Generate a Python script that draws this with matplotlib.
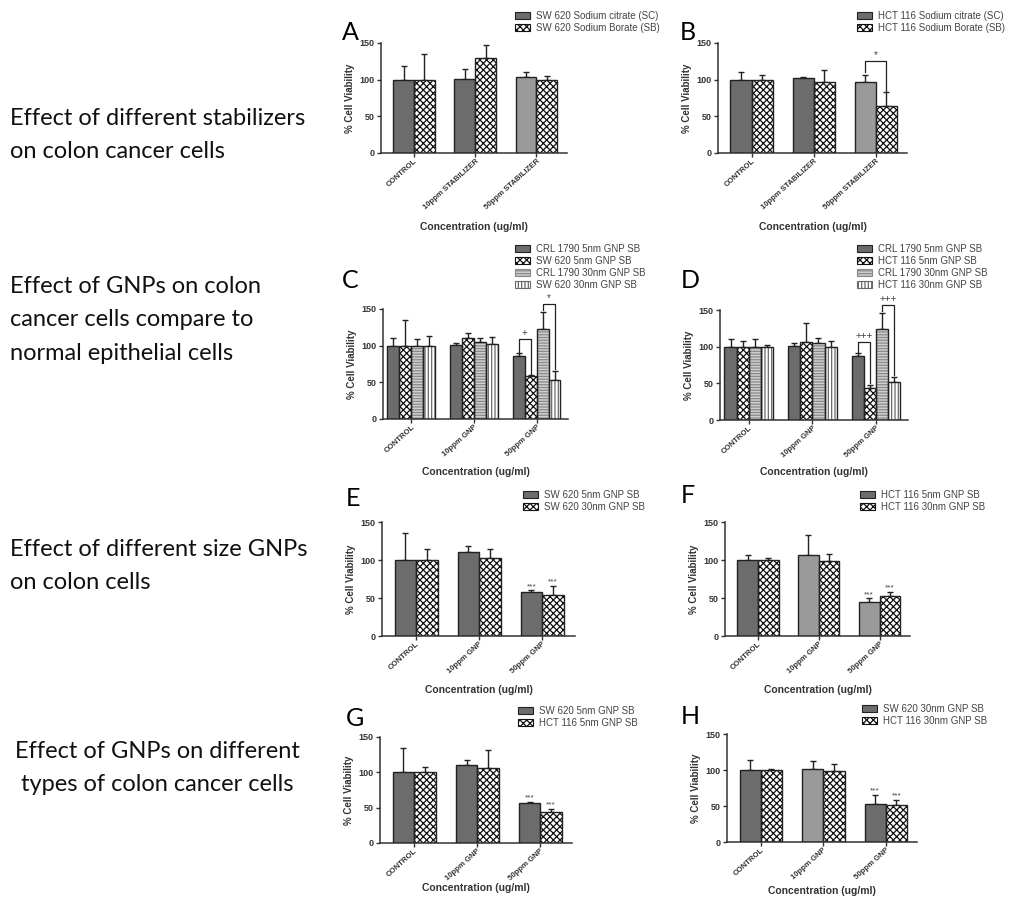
import numpy as np
import matplotlib.pyplot as plt
from matplotlib.patches import Patch

plt.rcParams['font.family'] = ['Liberation Sans', 'DejaVu Sans']
plt.rcParams['hatch.linewidth'] = 0.9

W, H = 1009, 898

# ---- data ----
groups_stab = ['CONTROL', '10ppm STABILIZER', '50ppm STABILIZER']
groups_gnp = ['CONTROL', '10ppm GNP', '50ppm GNP']

a_names = ['SW 620 Sodium citrate (SC)', 'SW 620 Sodium Borate (SB)']
a_vals = [[100, 101, 103], [100, 129.5, 100]]
a_errs = [[19, 14, 8], [35, 17.5, 4.5]]

b_names = ['HCT 116 Sodium citrate (SC)', 'HCT 116 Sodium Borate (SB)']
b_vals = [[100, 102, 97], [100, 97, 64.5]]
b_errs = [[11, 1, 9], [7, 16, 18.5]]

c_names = ['CRL 1790 5nm GNP SB', 'SW 620 5nm GNP SB',
           'CRL 1790 30nm GNP SB', 'SW 620 30nm GNP SB']
c_vals = [[100, 101, 86], [100, 110, 58], [100, 105, 123], [100, 102.5, 53.5]]
c_errs = [[10, 3, 4], [35, 7, 1.5], [9, 6, 22.5], [13, 9.5, 11.5]]

d_names = ['CRL 1790 5nm GNP SB', 'HCT 116 5nm GNP SB',
           'CRL 1790 30nm GNP SB', 'HCT 116 30nm GNP SB']
d_vals = [[100, 101, 87], [100, 106, 44], [100, 104.5, 124], [100, 99, 52]]
d_errs = [[11, 4.5, 4], [7.7, 26.7, 4], [10.5, 7.5, 22], [2, 9, 6]]

e_names = ['SW 620 5nm GNP SB', 'SW 620 30nm GNP SB']
e_vals = [[100, 110.6, 58], [100, 102.8, 54.6]]
e_errs = [[36, 7.4, 2], [14, 11.2, 11]]

f_names = ['HCT 116 5nm GNP SB', 'HCT 116 30nm GNP SB']
f_vals = [[100, 106, 45], [100, 99, 53]]
f_errs = [[7, 26.5, 4.4], [2, 8.5, 5]]

g_names = ['SW 620 5nm GNP SB', 'HCT 116 5nm GNP SB']
g_vals = [[100, 110, 57], [100, 105.5, 44]]
g_errs = [[35, 7, 1.6], [7, 26.5, 4]]

h_names = ['SW 620 30nm GNP SB', 'HCT 116 30nm GNP SB']
h_vals = [[100, 102, 53.4], [100, 98.5, 52]]
h_errs = [[14, 11, 11.6], [2, 9.5, 6]]

# brackets: (group, bar_i, bar_j, top, left_end, right_end, text)
b_brackets = [(2, 0, 1, 126, 110, 85, '*')]
c_brackets = [(2, 0, 1, 109, 92, 61, '+'), (2, 2, 3, 157, 148, 68, '*')]
d_brackets = [(2, 0, 1, 107, 93, 50, '+++'), (2, 2, 3, 157, 148, 61, '+++')]

left_texts = [
    ('Effect of different stabilizers\non colon cancer cells', 10, 135, 'left'),
    ('Effect of GNPs on colon\ncancer cells compare to\nnormal epithelial cells', 10, 320, 'left'),
    ('Effect of different size GNPs\non colon cells', 10, 566, 'left'),
    ('Effect of GNPs on different\ntypes of colon cancer cells', 157, 768, 'center'),
]

DARK = '#6c6c6c'
LIGHT = '#9a9a9a'


def px_axes(fig, x0, x1, y0, y1):
    return fig.add_axes([x0 / W, 1 - y1 / H, (x1 - x0) / W, (y1 - y0) / H])


def bar_style(kind):
    if kind == 'check':
        return dict(color='white', hatch='xxxxx', edgecolor='#111111')
    if kind == 'hline':
        return dict(color='#cfcfcf', hatch='------', edgecolor='#8a8a8a')
    if kind == 'vline':
        return dict(color='white', hatch='|||||', edgecolor='#6a6a6a')
    return dict(color=kind, hatch=None, edgecolor=kind)


def panel(fig, rect, letter, letter_xy, groups, names, vals, errs, kinds,
          xlim, leg_xy, xlab_y, brackets=None, stars=False):
    ax = px_axes(fig, *rect)
    n = len(names)
    width = 0.68 / n if n == 2 else 0.19
    x = np.arange(len(groups))
    for i in range(n):
        pos = x + (i - (n - 1) / 2) * width
        kind = kinds[i]
        cols = kind if isinstance(kind, list) else [kind] * len(groups)
        for j in range(len(groups)):
            st = bar_style(cols[j])
            ax.bar(pos[j], vals[i][j], width, color=st['color'], hatch=st['hatch'],
                   edgecolor=st['edgecolor'], linewidth=0, zorder=2)
        ax.bar(pos, vals[i], width, fill=False, edgecolor='#222222', linewidth=1.0, zorder=3)
        ax.errorbar(pos, vals[i], yerr=[np.zeros(len(groups)), errs[i]], fmt='none',
                    ecolor='#222222', elinewidth=1.0, capsize=2.5, capthick=1.0, zorder=1)
        if stars:
            ax.text(pos[2], vals[i][2] + errs[i][2] + 0.5, '***', ha='center',
                    va='bottom', fontsize=6, color='#444444')
    if brackets:
        for g, bi, bj, top, le, re, txt in brackets:
            xi = g + (bi - (n - 1) / 2) * width
            xj = g + (bj - (n - 1) / 2) * width
            ax.plot([xi, xi, xj, xj], [le, top, top, re], color='#222222', lw=0.9,
                    clip_on=False, zorder=4)
            ax.text((xi + xj) / 2, top + 1, txt, ha='center', va='bottom', fontsize=7,
                    color='#444444', clip_on=False)
    ax.set_xlim(*xlim)
    ax.set_ylim(0, 150)
    ax.set_yticks([0, 50, 100, 150])
    ax.set_xticks(x)
    ax.set_xticklabels(groups, rotation=42, ha='right', rotation_mode='anchor',
                       fontsize=5.6, fontweight='bold', color='#333333')
    for lab in ax.get_yticklabels():
        lab.set_fontsize(6.5)
        lab.set_fontweight('bold')
        lab.set_color('#333333')
    ax.tick_params(axis='both', direction='out', length=3, width=1, color='#333333', pad=1.5)
    ax.tick_params(axis='x', pad=0.5)
    ax.spines['top'].set_visible(False)
    ax.spines['right'].set_visible(False)
    for s in ('left', 'bottom'):
        ax.spines[s].set_linewidth(1.1)
        ax.spines[s].set_color('#333333')
    ax.set_ylabel('% Cell Viability', fontsize=7, fontweight='bold', color='#333333', labelpad=3)
    ax.set_xlabel('Concentration (ug/ml)', fontsize=7.5, fontweight='bold', color='#333333',
                  va='center')
    ax.xaxis.set_label_coords(0.5, (rect[3] - xlab_y) / (rect[3] - rect[2]))

    handles = []
    for i in range(n):
        kind = kinds[i]
        k0 = kind[0] if isinstance(kind, list) else kind
        st = bar_style(k0)
        handles.append(Patch(facecolor=st['color'], hatch=st['hatch'], edgecolor=st['edgecolor']
                             if st['hatch'] else '#222222', linewidth=0.8))
    ax.legend(handles, names, loc='upper left',
              bbox_to_anchor=(leg_xy[0] / W, 1 - leg_xy[1] / H), bbox_transform=fig.transFigure,
              frameon=False, fontsize=7, handlelength=1.5, handleheight=0.8,
              handletextpad=0.7, labelspacing=0.2, borderpad=0, borderaxespad=0,
              labelcolor='#444444')
    fig.text(letter_xy[0] / W, 1 - letter_xy[1] / H, letter, fontsize=18,
             family=['Lato', 'DejaVu Sans'], ha='center', va='center', color='black')
    return ax


fig = plt.figure(figsize=(W / 100, H / 100), dpi=100)

panel(fig, (381, 567, 43, 153), 'A', (350, 32), groups_stab, a_names, a_vals, a_errs,
      [[DARK, DARK, LIGHT], 'check'], (-0.54, 2.5), (515, 11), 227)
panel(fig, (718, 907, 43, 153), 'B', (688, 32), groups_stab, b_names, b_vals, b_errs,
      [[DARK, DARK, LIGHT], 'check'], (-0.54, 2.5), (857, 11), 227, brackets=b_brackets)
panel(fig, (383, 568, 309, 419), 'C', (350, 281), groups_gnp, c_names, c_vals, c_errs,
      [DARK, 'check', 'hline', 'vline'], (-0.45, 2.5), (515, 244), 472, brackets=c_brackets)
panel(fig, (720, 908, 310, 420), 'D', (690, 281), groups_gnp, d_names, d_vals, d_errs,
      [DARK, 'check', 'hline', 'vline'], (-0.45, 2.5), (857, 244), 472, brackets=d_brackets)
panel(fig, (382, 575, 522, 636), 'E', (353, 498), groups_gnp, e_names, e_vals, e_errs,
      [DARK, 'check'], (-0.54, 2.52), (523, 490), 690, stars=True)
panel(fig, (725, 910, 522, 636), 'F', (688, 496), groups_gnp, f_names, f_vals, f_errs,
      [[DARK, LIGHT, LIGHT], 'check'], (-0.54, 2.5), (860, 490), 690, stars=True)
panel(fig, (380, 572, 737, 843), 'G', (355, 718), groups_gnp, g_names, g_vals, g_errs,
      [DARK, 'check'], (-0.54, 2.5), (518, 706), 888, stars=True)
panel(fig, (727, 917, 734, 842), 'H', (690, 717), groups_gnp, h_names, h_vals, h_errs,
      [[DARK, LIGHT, DARK], 'check'], (-0.54, 2.5), (862, 704), 891, stars=True)

for txt, xx, yy, al in left_texts:
    fig.text(xx / W, 1 - yy / H, txt, fontsize=17, family=['Lato', 'DejaVu Sans'],
             ha=al, va='center', linespacing=1.75, multialignment=al, color='#111111')

fig.savefig('out.png', dpi=100)
